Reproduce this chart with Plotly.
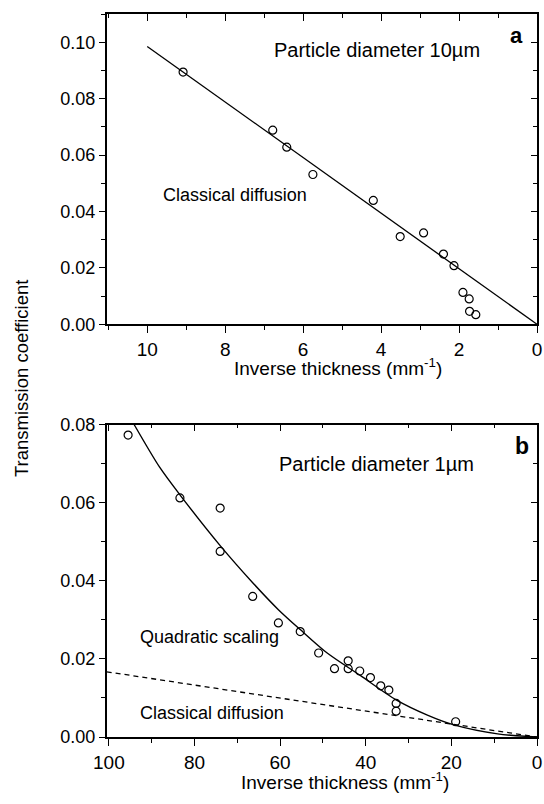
import plotly.graph_objects as go

# ---------------- Data ----------------
# Panel a: particle diameter 10 um
a_inv_thickness = [9.08, 6.78, 6.42, 5.75, 4.20, 3.51, 2.91, 2.40, 2.13, 1.90, 1.74, 1.73, 1.57]
a_transmission = [0.0894, 0.0688, 0.0628, 0.0531, 0.0439, 0.0311, 0.0324, 0.0249,
                  0.0208, 0.0113, 0.0090, 0.0046, 0.0034]
a_classical_x = [10.0, 0.0]
a_classical_y = [0.0985, 0.0]

# Panel b: particle diameter 1 um
b_inv_thickness = [95.5, 83.4, 74.0, 74.0, 66.4, 60.4, 55.3, 51.0, 47.3, 44.1, 44.1,
                   41.4, 38.9, 36.5, 34.6, 32.9, 32.9, 19.0]
b_transmission = [0.0773, 0.0612, 0.0586, 0.0475, 0.0360, 0.0292, 0.0270, 0.0215, 0.0175,
                  0.0195, 0.0175, 0.0169, 0.0152, 0.0131, 0.0120, 0.0086, 0.0066, 0.0039]
b_quadratic_x = [94.1, 88.1, 83.4, 74.0, 66.4, 60.4, 55.3, 49.0, 41.2, 32.9, 25.6, 19.4, 9.2, 0.0]
b_quadratic_y = [0.080, 0.069, 0.062, 0.049, 0.0395, 0.0326, 0.0275, 0.0215, 0.0157,
                 0.0095, 0.0056, 0.0031, 0.0008, 0.0]
b_classical_x = [100.5, 0.0]
b_classical_y = [0.0167, 0.0]

a_xticks = [10, 8, 6, 4, 2, 0]
b_xticks = [100, 80, 60, 40, 20, 0]

# ---------------- Layout helpers ----------------
W, H = 544, 804
FONT = "Liberation Sans, Arial, Helvetica, sans-serif"


def px(x):
    return x / W


def py(y):
    return 1 - y / H


X_DOM = [px(106.7), px(537.0)]
A_YDOM = [py(324.3), py(14.0)]
B_YDOM = [py(737.0), py(424.5)]

fig = go.Figure()

marker = dict(symbol="circle-open", size=8, color="black", line=dict(width=1.2, color="black"))

# Panel a traces
fig.add_trace(go.Scatter(x=a_classical_x, y=a_classical_y, mode="lines",
                         line=dict(color="black", width=1.3), xaxis="x", yaxis="y",
                         showlegend=False, hoverinfo="skip"))
fig.add_trace(go.Scatter(x=a_inv_thickness, y=a_transmission, mode="markers",
                         marker=marker, xaxis="x", yaxis="y", showlegend=False))

# Panel b traces
fig.add_trace(go.Scatter(x=b_classical_x, y=b_classical_y, mode="lines",
                         line=dict(color="black", width=1.3, dash="5px,4px"),
                         xaxis="x2", yaxis="y2", showlegend=False, hoverinfo="skip"))
fig.add_trace(go.Scatter(x=b_quadratic_x, y=b_quadratic_y, mode="lines",
                         line=dict(color="black", width=1.4, shape="spline", smoothing=0.8),
                         xaxis="x2", yaxis="y2", showlegend=False, hoverinfo="skip"))
fig.add_trace(go.Scatter(x=b_inv_thickness, y=b_transmission, mode="markers",
                         marker=marker, xaxis="x2", yaxis="y2", showlegend=False))

# placeholder traces so the mirrored (inward tick) axes are drawn
fig.add_trace(go.Scatter(x=[None], y=[None], xaxis="x3", yaxis="y3", showlegend=False,
                         hoverinfo="skip"))
fig.add_trace(go.Scatter(x=[None], y=[None], xaxis="x4", yaxis="y4", showlegend=False,
                         hoverinfo="skip"))

axis_base = dict(showgrid=False, zeroline=False, showline=True, linecolor="black",
                 linewidth=1.8, tickcolor="black", tickwidth=1.3, automargin=False)
ytickfont = dict(family=FONT, size=18, color="black")
xtickfont = dict(family=FONT, size=19, color="black")


def minor(dt, side):
    return dict(dtick=dt, tick0=0, ticklen=4, ticks=side, tickcolor="black", tickwidth=1.2)


A_XR = [11.04, 0]
A_YR = [0, 0.110]
B_XR = [100.5, 0]
B_YR = [0, 0.080]

fig.update_layout(
    width=W, height=H,
    margin=dict(l=0, r=0, t=0, b=0),
    paper_bgcolor="white", plot_bgcolor="white",
    font=dict(family=FONT, size=18, color="black"),
    xaxis=dict(domain=X_DOM, anchor="y", range=A_XR, tickvals=a_xticks, ticks="outside",
               ticklen=7, minor=minor(1, "outside"), tickfont=xtickfont, **axis_base),
    yaxis=dict(domain=A_YDOM, anchor="x", range=A_YR, dtick=0.02, tick0=0, tickformat=".2f",
               ticks="outside", ticklen=6, minor=minor(0.01, "outside"), tickfont=ytickfont,
               **axis_base),
    xaxis2=dict(domain=X_DOM, anchor="y2", range=B_XR, tickvals=b_xticks, ticks="outside",
                ticklen=7, minor=minor(10, "outside"), tickfont=xtickfont, **axis_base),
    yaxis2=dict(domain=B_YDOM, anchor="x2", range=B_YR, dtick=0.02, tick0=0, tickformat=".2f",
                ticks="outside", ticklen=6, minor=minor(0.01, "outside"), tickfont=ytickfont,
                **axis_base),
    # mirrored axes (top / right) with inward ticks
    xaxis3=dict(domain=X_DOM, anchor="y3", overlaying="x", side="top", range=A_XR,
                tickvals=a_xticks, ticks="inside", ticklen=7, showticklabels=False,
                minor=minor(1, "inside"), **axis_base),
    yaxis3=dict(domain=A_YDOM, anchor="x3", overlaying="y", side="right", range=A_YR,
                dtick=0.02, tick0=0, ticks="inside", ticklen=6, showticklabels=False,
                minor=minor(0.01, "inside"), **axis_base),
    xaxis4=dict(domain=X_DOM, anchor="y4", overlaying="x2", side="top", range=B_XR,
                tickvals=b_xticks, ticks="inside", ticklen=7, showticklabels=False,
                minor=minor(10, "inside"), **axis_base),
    yaxis4=dict(domain=B_YDOM, anchor="x4", overlaying="y2", side="right", range=B_YR,
                dtick=0.02, tick0=0, ticks="inside", ticklen=6, showticklabels=False,
                minor=minor(0.01, "inside"), **axis_base),
)

annotations = [
    # panel a
    dict(text="Particle diameter 10µm", x=px(272), y=py(50), xanchor="left", yanchor="middle",
         font=dict(size=20)),
    dict(text="<b>a</b>", x=px(516), y=py(35.5), xanchor="center", yanchor="middle",
         font=dict(size=22)),
    dict(text="Classical diffusion", x=px(161), y=py(194.7), xanchor="left", yanchor="middle",
         font=dict(size=18)),
    dict(text="Inverse thickness (mm<sup>-1</sup>)", x=px(338), y=py(367), xanchor="center",
         yanchor="middle", font=dict(size=19)),
    # panel b
    dict(text="Particle diameter 1µm", x=px(277), y=py(464), xanchor="left", yanchor="middle",
         font=dict(size=20)),
    dict(text="<b>b</b>", x=px(522), y=py(446), xanchor="center", yanchor="middle",
         font=dict(size=23)),
    dict(text="Quadratic scaling", x=px(137.5), y=py(637), xanchor="left", yanchor="middle",
         font=dict(size=18)),
    dict(text="Classical diffusion", x=px(137.5), y=py(712.5), xanchor="left", yanchor="middle",
         font=dict(size=18)),
    dict(text="Inverse thickness (mm<sup>-1</sup>)", x=px(345), y=py(781), xanchor="center",
         yanchor="middle", font=dict(size=19)),
    # shared y title
    dict(text="Transmission coefficient", x=px(22), y=py(379), xanchor="center",
         yanchor="middle", textangle=-90, font=dict(size=18.5)),
]
for a in annotations:
    a.update(xref="paper", yref="paper", showarrow=False)
    a["font"] = dict(family=FONT, color="black", **a["font"])
fig.update_layout(annotations=annotations)

fig.write_html("out.html", config={"displayModeBar": False},
               post_script="document.body.style.margin='0';")
